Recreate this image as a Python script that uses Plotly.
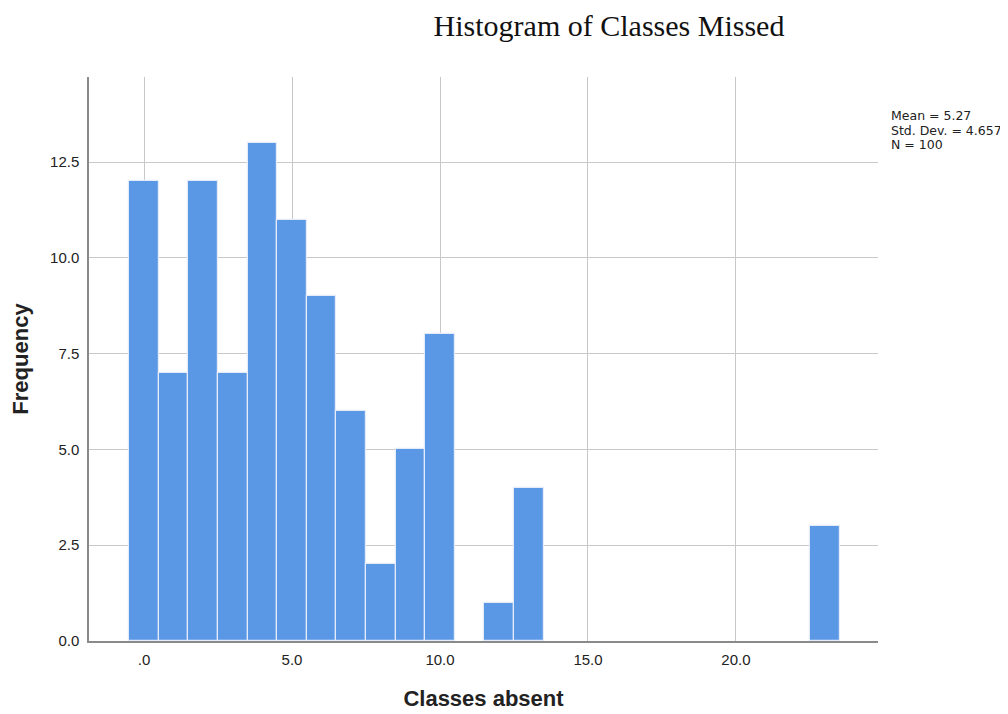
import plotly.graph_objects as go

classes_absent = [0, 1, 2, 3, 4, 5, 6, 7, 8, 9, 10, 11, 12, 13, 23]
frequency = [12, 7, 12, 7, 13, 11, 9, 6, 2, 5, 8, 0, 1, 4, 3]
x_tick_vals = [0, 5, 10, 15, 20]
x_tick_text = [".0", "5.0", "10.0", "15.0", "20.0"]
y_tick_vals = [0, 2.5, 5, 7.5, 10, 12.5]
y_tick_text = ["0.0", "2.5", "5.0", "7.5", "10.0", "12.5"]
stats_lines = ["Mean = 5.27", "Std. Dev. = 4.657", "N = 100"]

# page has an 8px body margin, so the figure is sized to fit the viewport
W, H = 1000, 706
L, R, T, B = 81, 130, 69, 73
PW, PH = W - L - R, H - T - B

edge_widths = [1.2 if v > 0 else 0 for v in frequency]

fig = go.Figure()
fig.add_trace(go.Bar(
    x=classes_absent, y=frequency, width=1,
    marker=dict(color="#5A97E4", line=dict(color="#E3ECF8", width=edge_widths)),
    showlegend=False, hoverinfo="x+y",
))

fig.update_layout(
    width=W, height=H,
    margin=dict(l=L, r=R, t=T, b=B),
    paper_bgcolor="white", plot_bgcolor="white",
    font=dict(family="Liberation Sans, Arial, sans-serif", size=12, color="#222"),
    title=dict(text="Histogram of Classes Missed", x=601/W, xanchor="center",
               xref="container", y=1.0, yanchor="top", pad=dict(t=7),
               font=dict(family="Liberation Serif, Times New Roman, serif", size=30, color="#111")),
    bargap=0,
    xaxis=dict(range=[-1.86, 24.8], tickvals=x_tick_vals, ticktext=x_tick_text,
               showgrid=True, gridcolor="#C8C8C8", gridwidth=1,
               showline=True, linecolor="#8A8A8A", linewidth=1.5, zeroline=False,
               layer="above traces",
               ticks="outside", ticklen=4, tickcolor="rgba(0,0,0,0)", automargin=False,
               title=dict(text="<b>Classes absent</b>", font=dict(size=22, color="#222"), standoff=24),
               tickfont=dict(size=15, color="#222")),
    yaxis=dict(range=[0, 14.72], tickvals=y_tick_vals, ticktext=y_tick_text,
               showgrid=True, gridcolor="#C8C8C8", gridwidth=1,
               showline=True, linecolor="#8A8A8A", linewidth=1.5, zeroline=False,
               layer="above traces",
               ticks="outside", ticklen=5, tickcolor="rgba(0,0,0,0)", automargin=False,
               title=dict(text="<b>Frequency</b>", font=dict(size=22, color="#222"), standoff=15),
               tickfont=dict(size=15, color="#222")),
)

for i, line in enumerate(stats_lines):
    py = 107 + 15 * i
    fig.add_annotation(text=line, xref="paper", yref="paper",
                       x=(881 - L) / PW, y=(H - B - py) / PH,
                       xanchor="left", yanchor="middle", align="left", showarrow=False,
                       font=dict(size=12.5, color="#222", family="DejaVu Sans, sans-serif"))

fig.write_html("out.html")
